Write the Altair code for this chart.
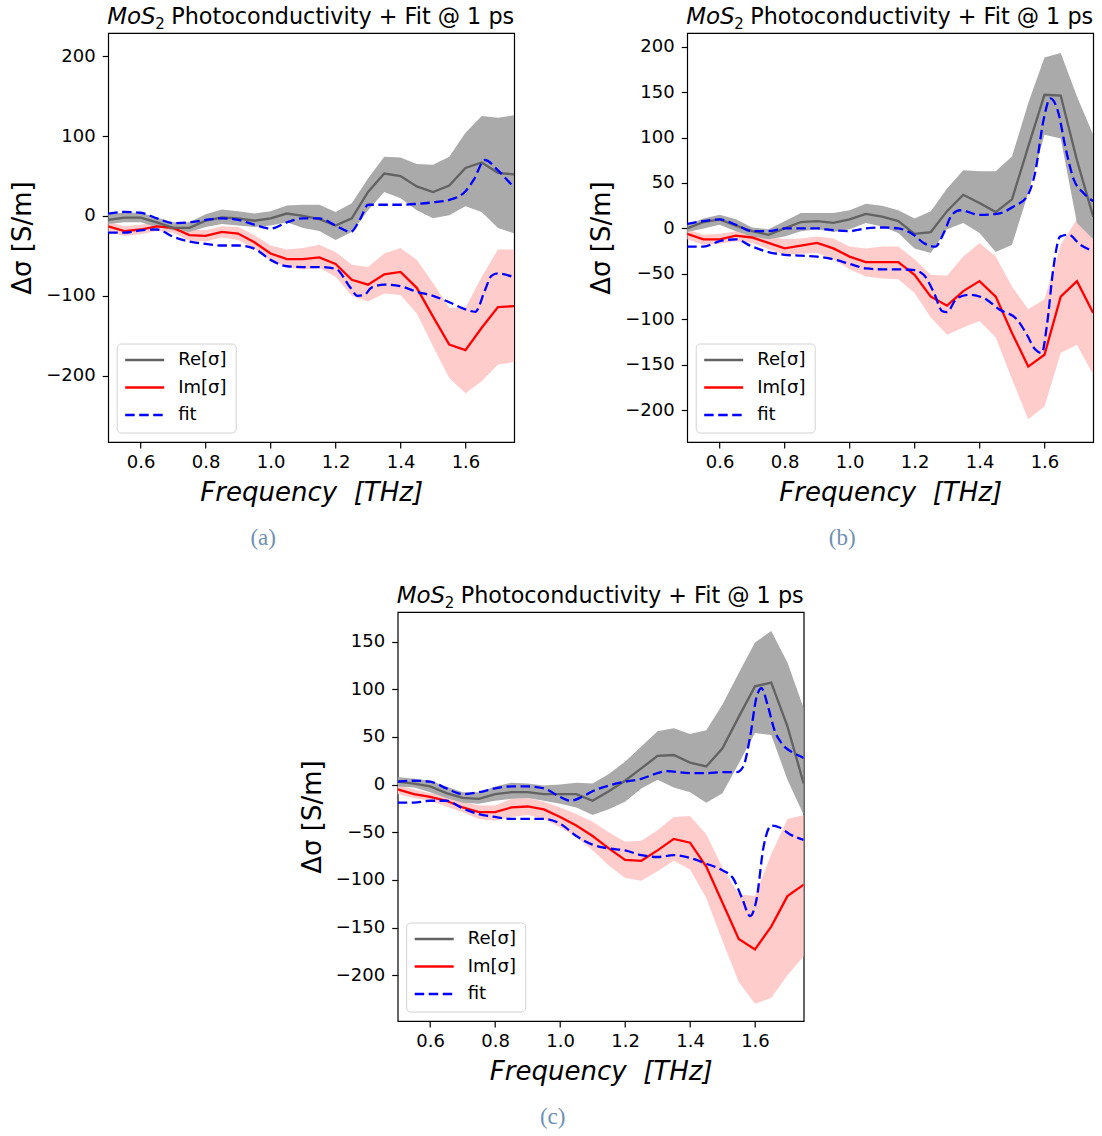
import altair as alt
import pandas as pd

# ---------------- data ----------------
FREQ = [0.50, 0.55, 0.60, 0.65, 0.70, 0.75, 0.80, 0.85, 0.90, 0.95, 1.00, 1.05, 1.10,
        1.15, 1.20, 1.25, 1.30, 1.35, 1.40, 1.45, 1.50, 1.55, 1.60, 1.65, 1.70, 1.75]
XTICKS = [0.6, 0.8, 1.0, 1.2, 1.4, 1.6]

# panel (a)
A_RE = [-5, -2, -2, -8, -15, -15, -6, -2, -3, -6, -3, 3, 0, -4, -12, -3, 30, 53, 50, 37, 30, 38, 60, 67, 54, 52]
A_RE_HI = [3, 4, 4, -2, -8, -8, 2, 8, 6, 3, 6, 13, 14, 14, 5, 16, 47, 74, 73, 65, 64, 74, 104, 125, 123, 126]
A_RE_LO = [-10, -8, -8, -14, -18, -20, -14, -10, -12, -14, -12, -8, -15, -19, -30, -20, 7, 30, 22, 7, -3, 1, 12, 5, -15, -22]
A_IM = [-13, -19, -17, -13, -15, -24, -25, -20, -22, -33, -47, -54, -54, -52, -60, -80, -86, -73, -70, -90, -126, -161, -168, -140, -114, -113]
A_IM_HI = [-7, -13, -11, -8, -9, -17, -18, -13, -14, -24, -37, -42, -40, -36, -45, -61, -64, -47, -40, -55, -84, -115, -115, -76, -42, -42]
A_IM_LO = [-20, -25, -23, -19, -21, -31, -32, -27, -30, -41, -56, -64, -67, -65, -76, -100, -107, -97, -99, -122, -163, -203, -222, -207, -186, -183]
A_FRE_X = [0.50, 0.55, 0.60, 0.65, 0.70, 0.75, 0.80, 0.85, 0.90, 0.95, 1.00, 1.05, 1.10, 1.15, 1.20,
           1.246, 1.277, 1.30, 1.35, 1.40, 1.45, 1.50, 1.55, 1.60, 1.625, 1.66, 1.70, 1.75]
A_FRE = [3, 5, 4, -3, -9, -8, -5, -3, -5, -11, -16, -8, -3, -3, -12,
         -20, -3, 14, 14, 14, 15, 17, 20, 31, 45, 70, 57, 35]
A_FIM_X = [0.50, 0.55, 0.60, 0.65, 0.70, 0.75, 0.80, 0.85, 0.90, 0.95, 1.00, 1.05, 1.10, 1.15, 1.20,
           1.246, 1.267, 1.288, 1.31, 1.35, 1.40, 1.45, 1.50, 1.55, 1.60, 1.63, 1.66, 1.68, 1.70, 1.75]
A_FIM = [-21, -21, -18, -17, -26, -32, -35, -37, -37, -41, -55, -63, -64, -64, -66,
         -90, -100, -99, -90, -86, -88, -95, -100, -108, -117, -120, -93, -75, -72, -77]

# panel (b)
B_RE = [0, 7, 10, 3, -3, -7, 0, 7, 8, 6, 10, 16, 13, 8, -6, -4, 19, 37, 28, 18, 32, 90, 147, 146, 75, 13]
B_RE_HI = [4, 11, 15, 10, 1, -1, 8, 17, 17, 17, 20, 27, 25, 20, 11, 19, 44, 64, 63, 63, 79, 138, 188, 193, 145, 103]
B_RE_LO = [-4, 0, 4, -3, -9, -12, -9, -3, -1, -4, -1, 6, 2, -5, -22, -27, -1, 6, -5, -26, -18, 39, 103, 99, 6, -12]
B_IM = [-6, -12, -12, -8, -10, -16, -22, -19, -16, -22, -31, -37, -37, -37, -51, -75, -85, -69, -58, -75, -115, -152, -139, -75, -58, -93]
B_IM_HI = [-1, -7, -6, -3, -5, -9, -12, -11, -9, -11, -20, -22, -20, -20, -34, -51, -52, -31, -16, -31, -64, -89, -78, -18, 10, -12]
B_IM_LO = [-12, -18, -17, -14, -16, -23, -29, -28, -27, -34, -45, -53, -55, -56, -71, -98, -117, -109, -102, -120, -166, -210, -196, -137, -128, -161]
B_FRE_X = [0.50, 0.55, 0.60, 0.65, 0.70, 0.75, 0.80, 0.85, 0.90, 0.95, 1.00, 1.05, 1.10, 1.15,
           1.197, 1.228, 1.264, 1.29, 1.315, 1.34, 1.40, 1.454, 1.505, 1.546, 1.571, 1.597,
           1.618, 1.643, 1.664, 1.69, 1.72, 1.75]
B_FRE = [5, 8, 10, 4, -3, -3, 0, 0, 0, -2, -3, 0, 1, 0,
         -7, -16, -20, -5, 15, 20, 15, 16, 24, 35, 61, 119, 143, 127, 90, 54, 39, 30]
B_FIM_X = [0.50, 0.55, 0.60, 0.65, 0.70, 0.75, 0.80, 0.85, 0.90, 0.95, 1.00, 1.05, 1.10, 1.15, 1.20,
           1.228, 1.26, 1.285, 1.30, 1.33, 1.37, 1.42, 1.46, 1.515, 1.546, 1.571, 1.592, 1.607,
           1.628, 1.648, 1.674, 1.71, 1.75]
B_FIM = [-20, -20, -14, -12, -20, -26, -29, -30, -31, -34, -39, -44, -45, -45, -46,
         -51, -71, -91, -92, -77, -73, -78, -89, -100, -117, -133, -137, -108, -42, -9, -7, -18, -25]

# panel (c)
C_RE = [3, 1, -2, -9, -14, -15, -10, -8, -8, -10, -10, -10, -17, -7, 4, 17, 30, 31, 23, 19, 38, 71, 103, 107, 61, 1]
C_RE_HI = [8, 6, 4, -2, -8, -8, -2, 2, 1, -1, 0, 2, 1, 11, 24, 40, 56, 59, 53, 57, 84, 117, 149, 161, 128, 80]
C_RE_LO = [-2, -3, -8, -14, -19, -20, -17, -15, -14, -17, -20, -24, -32, -26, -18, -4, 5, -3, -8, -19, -9, 22, 54, 52, 5, -32]
C_IM = [-5, -10, -13, -17, -24, -29, -29, -24, -23, -26, -34, -43, -54, -67, -79, -80, -69, -57, -61, -86, -124, -162, -173, -149, -117, -105]
C_IM_HI = [-1, -5, -9, -11, -18, -22, -22, -15, -14, -18, -24, -31, -39, -50, -60, -59, -48, -34, -33, -52, -87, -115, -117, -73, -36, -32]
C_IM_LO = [-10, -14, -17, -23, -29, -36, -38, -34, -32, -36, -45, -55, -69, -85, -98, -101, -91, -80, -89, -119, -164, -207, -230, -224, -200, -180]
C_FRE_X = [0.50, 0.55, 0.60, 0.65, 0.70, 0.75, 0.80, 0.85, 0.90, 0.95, 1.00,
           1.031, 1.067, 1.10, 1.15, 1.20, 1.25, 1.30, 1.33, 1.40, 1.45, 1.50, 1.544, 1.564,
           1.585, 1.605, 1.62, 1.64, 1.66, 1.685, 1.72, 1.75]
C_FRE = [3, 4, 3, -4, -10, -8, -4, -2, -2, -4, -13,
         -17, -13, -7, -1, 3, 6, 12, 14, 12, 12, 13, 13, 19, 50, 92, 101, 82, 57, 42, 33, 28]
C_FIM_X = [0.50, 0.55, 0.60, 0.65, 0.70, 0.75, 0.80, 0.85, 0.90, 0.95, 1.00, 1.05, 1.10, 1.15,
           1.20, 1.25, 1.30, 1.35, 1.40, 1.45, 1.50,
           1.532, 1.56, 1.585, 1.605, 1.626, 1.651, 1.676, 1.707, 1.75]
C_FIM = [-19, -19, -17, -17, -25, -31, -34, -36, -36, -36, -41, -54, -63, -67, -69, -74, -76,
         -74, -77, -83, -90, -98, -119, -138, -120, -66, -43, -45, -52, -58]

TITLE_MATH = "MoS"
TITLE_SUB = "2"
TITLE_REST = "Photoconductivity + Fit @ 1 ps"
LEGEND_LABELS = ["Re[σ]", "Im[σ]", "fit"]
X_TITLE = "Frequency\u00a0\u00a0[THz]"
Y_TITLE = "Δσ [S/m]"

GRAY_BAND = "#aaaaaa"
GRAY_LINE = "#626262"
PINK_BAND = "#ffcccc"
RED = "#ff0000"
BLUE = "#0000ff"
DASH = [9.5, 4.5]
CAPTION_COLOR = "#7090b4"

W, H = 406, 409


def text_layer(txt, x, y, size, style="normal", align="left", font="DejaVu Sans",
               color="black", baseline="alphabetic"):
    return alt.Chart(pd.DataFrame({"t": [txt]})).mark_text(
        align=align, baseline=baseline, fontSize=size, fontStyle=style, font=font, color=color
    ).encode(text="t:N", x=alt.value(x), y=alt.value(y))


def panel(re, re_lo, re_hi, im, im_lo, im_hi, frx, fr, fix, fi, ydom, yticks, caption):
    band = pd.DataFrame({"f": FREQ, "re": re, "re_lo": re_lo, "re_hi": re_hi,
                         "im": im, "im_lo": im_lo, "im_hi": im_hi})
    fre = pd.DataFrame({"f": frx, "v": fr})
    fim = pd.DataFrame({"f": fix, "v": fi})

    xs = alt.Scale(domain=[0.5, 1.75], nice=False, zero=False)
    ys = alt.Scale(domain=ydom, nice=False, zero=False)
    xax = alt.Axis(values=XTICKS, format=".1f", title=X_TITLE, titleFontStyle="italic",
                   labelPadding=5, titlePadding=8, grid=False)
    yax = alt.Axis(values=yticks, format="d", title=Y_TITLE, grid=False,
                   labelExpr="replace(datum.label, '-', '\u2212')",
                   labelPadding=7, titlePadding=10)

    def X():
        return alt.X("f:Q", scale=xs, axis=xax)

    def Y(field):
        return alt.Y(field, type="quantitative", scale=ys, axis=yax)

    base = alt.Chart(band)
    im_band = base.mark_area(color=PINK_BAND, opacity=1, clip=True).encode(
        x=X(), y=Y("im_lo"), y2="im_hi")
    re_band = base.mark_area(color=GRAY_BAND, opacity=1, clip=True).encode(
        x=X(), y=Y("re_lo"), y2="re_hi")
    re_line = base.mark_line(color=GRAY_LINE, strokeWidth=2.3, clip=True).encode(
        x=X(), y=Y("re"))
    im_line = base.mark_line(color=RED, strokeWidth=2.3, clip=True).encode(
        x=X(), y=Y("im"))
    fit_re = alt.Chart(fre).mark_line(color=BLUE, strokeWidth=2.3, strokeDash=DASH,
                                      interpolate="monotone", clip=True).encode(x=X(), y=Y("v"))
    fit_im = alt.Chart(fim).mark_line(color=BLUE, strokeWidth=2.3, strokeDash=DASH,
                                      interpolate="monotone", clip=True).encode(x=X(), y=Y("v"))

    # legend (drawn inside the plot, lower left)
    box = alt.Chart(pd.DataFrame({"k": [0]})).mark_rect(
        fill="white", stroke="#cccccc", strokeWidth=1, cornerRadius=4, opacity=0.85
    ).encode(x=alt.value(9), x2=alt.value(128), y=alt.value(311), y2=alt.value(400))
    rows_y = [327, 354.5, 382]
    colors = [GRAY_LINE, RED, BLUE]
    dashes = [[1, 0], [1, 0], DASH]
    leg = [box]
    for lab, yy, c, d in zip(LEGEND_LABELS, rows_y, colors, dashes):
        leg.append(alt.Chart(pd.DataFrame({"k": [0]})).mark_rule(
            color=c, strokeWidth=2.3, strokeDash=d
        ).encode(x=alt.value(17), x2=alt.value(56), y=alt.value(yy)))
        leg.append(text_layer(lab, 70, yy, 18, baseline="middle"))

    title = [
        text_layer(TITLE_MATH, -1, -9, 23, style="italic"),
        text_layer(TITLE_SUB, 47, -4, 15),
        text_layer(TITLE_REST, 63, -9, 22.3),
    ]
    cap = text_layer(caption, 155, 505, 23, align="center", font="Liberation Serif",
                     color=CAPTION_COLOR, baseline="middle")

    return alt.layer(im_band, re_band, im_line, re_line, fit_re, fit_im,
                     *leg, *title, cap).properties(width=W, height=H)


pa = panel(A_RE, A_RE_LO, A_RE_HI, A_IM, A_IM_LO, A_IM_HI, A_FRE_X, A_FRE, A_FIM_X, A_FIM,
           [-283, 229], [-200, -100, 0, 100, 200], "(a)")
pb = panel(B_RE, B_RE_LO, B_RE_HI, B_IM, B_IM_LO, B_IM_HI, B_FRE_X, B_FRE, B_FIM_X, B_FIM,
           [-235, 215], [-200, -150, -100, -50, 0, 50, 100, 150, 200], "(b)")
pc = panel(C_RE, C_RE_LO, C_RE_HI, C_IM, C_IM_LO, C_IM_HI, C_FRE_X, C_FRE, C_FIM_X, C_FIM,
           [-248, 181], [-200, -150, -100, -50, 0, 50, 100, 150], "(c)")

top = alt.hconcat(pa, pb, spacing=72)
chart = alt.vconcat(top, pc, spacing=33, center=True).properties(
    padding={"left": 9, "top": 5, "right": 2, "bottom": 2}
).configure(
    background="white"
).configure_view(
    stroke="black", strokeWidth=1.2
).configure_axis(
    labelFont="DejaVu Sans", labelFontSize=18, labelColor="black",
    titleFont="DejaVu Sans", titleFontSize=26, titleFontWeight="normal", titleColor="black",
    tickColor="black", tickSize=6, tickWidth=1.2, domain=False, grid=False
)

chart.save("out.html", embed_options={"renderer": "svg", "actions": False})
